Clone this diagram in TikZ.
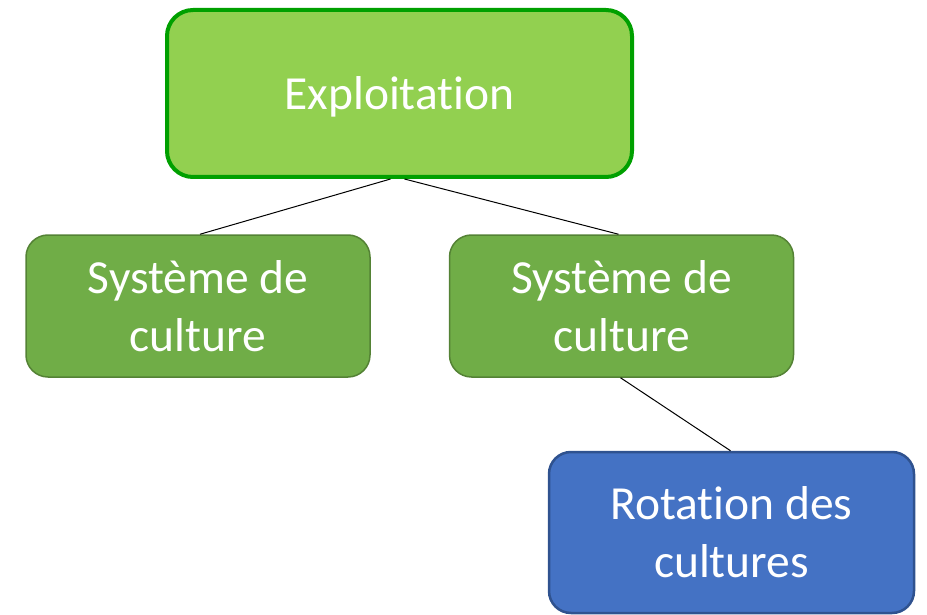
\documentclass[tikz,border=0pt]{standalone}
\usepackage{fontspec}
\setmainfont[Ligatures={NoCommon,NoContextual,NoRequired},
  RawFeature={-liga;-clig;-calt;-dlig}]{Carlito}
\definecolor{lightgreen}{HTML}{92D050}
\definecolor{topborder}{HTML}{00A000}
\definecolor{midgreen}{HTML}{70AD47}
\definecolor{midborder}{HTML}{548235}
\definecolor{bluefill}{HTML}{4472C4}
\definecolor{blueborder}{HTML}{2F528F}
\newcommand{\septi}{t\kern0pt i}% keeps t and i apart
\begin{document}
\begin{tikzpicture}[x=1pt,y=-1pt,
    box/.style={rounded corners=22pt, align=center, text=white,
      font=\fontsize{47.5}{58}\selectfont, inner sep=0pt},
    topbox/.style={box, fill=lightgreen, draw=topborder, line width=4pt,
      minimum width=465pt, minimum height=167pt, rounded corners=26pt,
      text depth=0pt},
    sysbox/.style={box, fill=midgreen, draw=midborder, line width=1.5pt,
      minimum width=344pt, minimum height=142pt},
    rotbox/.style={box, fill=bluefill, draw=blueborder, line width=2.5pt,
      minimum width=365pt, minimum height=161pt},
    link/.style={draw=black, line width=1pt}]
    \useasboundingbox (0,0) rectangle (927,615);
    \def\ay{93.5}; \def\by{306}; \def\cy{532.5};

    \node[topbox] (expl) at (399.5,\ay) {Exploita\septi on};
    \node[sysbox] (sysL) at (198,\by) {Système de\\culture};
    \node[sysbox] (sysR) at (621.5,\by) {Système de\\culture};
    \node[rotbox] (rot) at (731.5,\cy) {Rota\septi on des\\cultures};

    \draw[link] ([xshift=-9pt]expl.south) -- ([xshift=2pt]sysL.north);
    \draw[link] ([xshift=5pt]expl.south) -- ([xshift=-3pt]sysR.north);
    \draw[link] ([xshift=-1pt]sysR.south) -- ([xshift=-1pt]rot.north);
  \end{tikzpicture}
\end{document}
